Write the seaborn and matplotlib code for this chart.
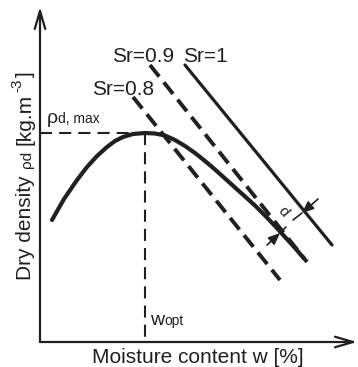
import matplotlib
matplotlib.use("Agg")
import matplotlib.pyplot as plt
import seaborn as sns

# Compaction curve (moisture content vs. dry density), schematic units
w_curve = [12, 24, 37, 47, 57, 67, 75, 83, 93, 105, 115, 125, 135, 145, 155, 165,
           175, 185, 195, 205, 215, 225, 235, 245, 255, 264]
rho_curve = [122, 143, 162, 175, 186, 195, 201, 205, 208, 209, 208.5, 206.5, 202, 196,
             189, 181, 172.5, 163.5, 154.5, 145.5, 136.5, 126.5, 116, 105, 94, 83.5]

# Optimum point
w_opt = 105
rho_max = 209

# Saturation lines (degree of saturation Sr)
w_sr10 = [145, 292]
rho_sr10 = [277, 97]
w_sr09 = [110, 267]
rho_sr09 = [277, 80]
w_sr08 = [93, 240]
rho_sr08 = [245, 62]

sr_labels = ["Sr=0.8", "Sr=0.9", "Sr=1"]

INK = "#231f20"

sns.set_theme(style="white")
plt.rcParams["font.family"] = ["Liberation Sans", "DejaVu Sans"]

W, H = 358, 367
fig = plt.figure(figsize=(W / 100, H / 100), dpi=100)
ax = fig.add_axes([40 / W, 25 / H, 317 / W, 335 / H])
ax.set_xlim(0, 317)
ax.set_ylim(0, 335)
ax.set_axis_off()

# Axes drawn as arrows
arrow_kw = dict(arrowstyle="->,head_length=1.3,head_width=0.38", lw=1.6, color=INK,
                shrinkA=0, shrinkB=0, mutation_scale=10)
ax.annotate("", xy=(1, 0), xytext=(0, 0), xycoords="axes fraction", arrowprops=arrow_kw)
ax.annotate("", xy=(0, 1), xytext=(0, 0), xycoords="axes fraction", arrowprops=arrow_kw)

# Optimum guide lines
ref_dash = (0, (5.8, 3.4))
sns.lineplot(x=[0, w_opt], y=[rho_max, rho_max], ax=ax, color=INK, lw=1.5,
             linestyle=ref_dash, estimator=None, sort=False)
sns.lineplot(x=[w_opt, w_opt], y=[rho_max, 0], ax=ax, color=INK, lw=1.5,
             linestyle=ref_dash, estimator=None, sort=False)

# Saturation lines
sat_dash = (0, (3.8, 1.9))
sns.lineplot(x=w_sr08, y=rho_sr08, ax=ax, color=INK, lw=2.8, linestyle=sat_dash,
             estimator=None, sort=False, dash_capstyle="butt")
sns.lineplot(x=w_sr09, y=rho_sr09, ax=ax, color=INK, lw=2.8, linestyle=sat_dash,
             estimator=None, sort=False, dash_capstyle="butt")
sns.lineplot(x=w_sr10, y=rho_sr10, ax=ax, color=INK, lw=2.3,
             estimator=None, sort=False, solid_capstyle="round")

# Compaction curve
sns.lineplot(x=w_curve, y=rho_curve, ax=ax, color=INK, lw=3.0,
             estimator=None, sort=False, solid_capstyle="round", solid_joinstyle="round")

# Saturation labels
ax.text(52, 247, sr_labels[0], fontsize=15, color=INK, ha="left", va="baseline")
ax.text(72, 280, sr_labels[1], fontsize=15, color=INK, ha="left", va="baseline")
ax.text(143, 280, sr_labels[2], fontsize=15, color=INK, ha="left", va="baseline")

# rho_d,max label
t_rho = ax.text(7, 219, "\u03c1", fontsize=14, color=INK, ha="left", va="baseline")
ax.annotate("d, max", xy=(1, 219), xycoords=(t_rho, "data"), fontsize=10, color=INK,
            ha="left", va="baseline")

# w_opt label
t_w = ax.text(110, 17, "w", fontsize=14, color=INK, ha="left", va="baseline")
ax.annotate("opt", xy=(1, 17), xycoords=(t_w, "data"), fontsize=10, color=INK,
            ha="left", va="baseline")

# Spacing d between the Sr=0.9 and Sr=1 lines
dim_kw = dict(arrowstyle="-|>,head_length=0.7,head_width=0.3", lw=1.2, color=INK,
              shrinkA=0, shrinkB=0, mutation_scale=10)
ax.annotate("", xy=(262, 129), xytext=(278, 143), xycoords="data", arrowprops=dim_kw)
ax.plot([262, 253], [129, 122], color=INK, lw=1.2)
ax.annotate("", xy=(240, 109), xytext=(227, 97), xycoords="data", arrowprops=dim_kw)
ax.plot([240, 246], [109, 115], color=INK, lw=1.2)
ax.text(243, 130, "d", fontsize=11, color=INK, rotation=-50, ha="center", va="center")

# Axis titles
fig.text(198 / W, (H - 363) / H, "Moisture content w [%]", fontsize=15, color=INK,
         ha="center", va="baseline")

# Vertical title built from pieces of different size: (text, size, rise px, gap px before)
y_pieces = [("Dry density", 15, 0, 0), ("\u03c1d", 11, 0, 7), ("[kg.m", 15, 0, 6),
            ("-3", 11, 10, 2), ("]", 15, 0, 2)]
renderer = fig.canvas.get_renderer()
base_x = 31
cursor_y = H - 280
for txt, size, rise, gap in y_pieces:
    cursor_y += gap
    t = fig.text((base_x - rise) / W, cursor_y / H, txt, fontsize=size, color=INK,
                 rotation=90, rotation_mode="anchor", ha="left", va="baseline")
    cursor_y = t.get_window_extent(renderer).y1

fig.savefig("out.png", dpi=100)
